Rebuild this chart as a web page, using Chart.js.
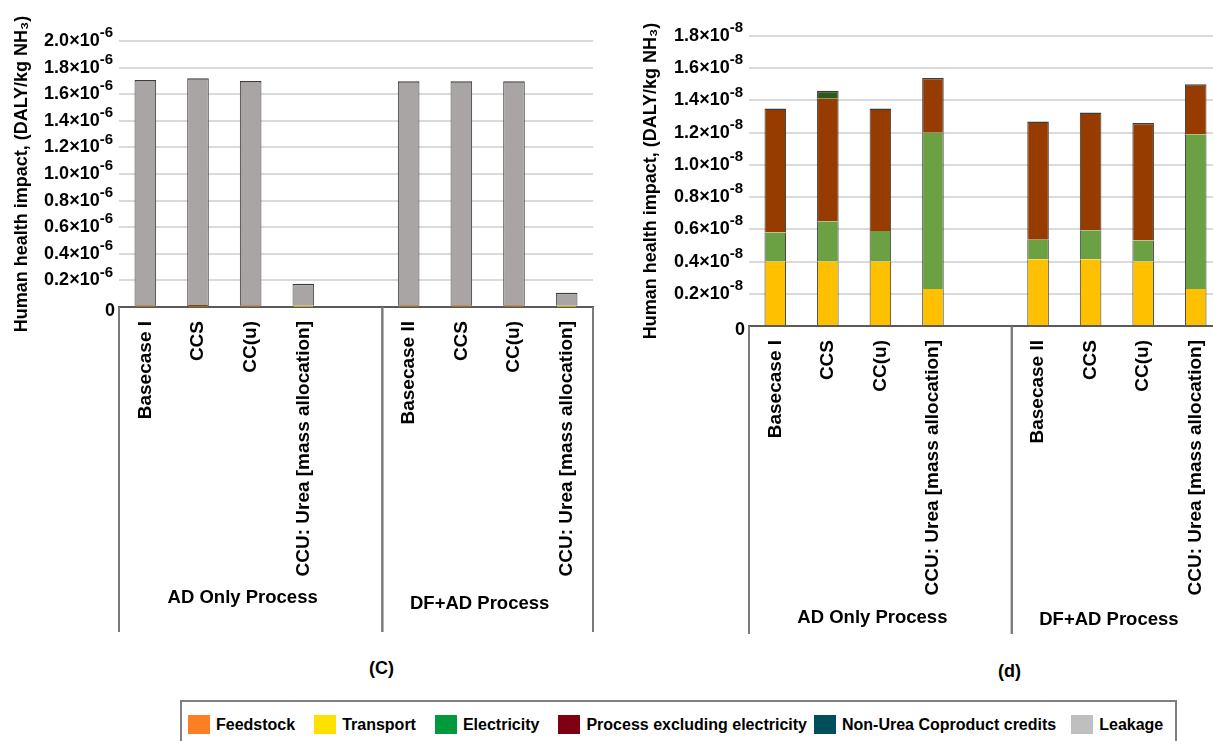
<!DOCTYPE html>
<html>
<head>
<meta charset="utf-8">
<script src="https://cdn.jsdelivr.net/npm/chart.js@4"></script>
<style>
  body { margin: 0; width: 1213px; height: 741px; overflow: hidden; background: #fff; position: relative;
         font-family: "Liberation Sans", Arial, sans-serif; color: #000; }
  .panel { position: absolute; top: 0; }
  .tag { position: absolute; font-weight: bold; font-size: 18px; }
  #legend { position: absolute; left: 180px; top: 700px; width: 997px; height: 60px;
            border: 2px solid #7f7f7f; box-sizing: border-box; display: flex; align-items: flex-start;
            padding: 13px 0 0 6px; font-weight: bold; font-size: 16px; white-space: nowrap; }
  #legend .item { display: flex; align-items: center; flex-shrink: 0; height: 19px; }
  #legend .sw { width: 22px; height: 19px; margin-right: 6px; flex-shrink: 0; }
</style>
</head>
<body>
<canvas id="impactC" class="panel" style="left:0" width="600" height="640"></canvas>
<canvas id="impactD" class="panel" style="left:600px" width="640" height="650"></canvas>
<div class="tag" style="left:369px; top:658px;">(C)</div>
<div class="tag" style="left:998px; top:661px;">(d)</div>
<div id="legend"></div>

<script>
// --- categories (empty slot separates the two process groups) ---
const scenarios = ['Basecase I', 'CCS', 'CC(u)', 'CCU: Urea [mass allocation]', '',
                   'Basecase II', 'CCS', 'CC(u)', 'CCU: Urea [mass allocation]'];
const groups = [
  { label: 'AD Only Process', from: 0, to: 4 },
  { label: 'DF+AD Process', from: 5, to: 8 }
];

const seriesNames = ['Feedstock', 'Transport', 'Electricity', 'Process excluding electricity',
                     'Non-Urea Coproduct credits', 'Leakage'];

// --- panel (C), values in 10^-6 DALY/kg NH3 ---
const cFeedstock   = [0, 0, 0, 0, null, 0, 0, 0, 0];
const cTransport   = [0.0040, 0.0040, 0.0040, 0.0023, null, 0.0042, 0.0042, 0.0040, 0.0023];
const cElectricity = [0.0018, 0.0025, 0.0019, 0.0097, null, 0.0012, 0.0018, 0.0013, 0.0096];
const cProcess     = [0.0077, 0.0076, 0.0076, 0.0034, null, 0.0074, 0.0073, 0.0073, 0.0031];
const cNonUrea     = [0, 0.0005, 0, 0, null, 0, 0, 0, 0];
const cLeakage     = [1.693, 1.706, 1.686, 0.160, null, 1.684, 1.684, 1.684, 0.093];
const cTicks = { max: 2.0, step: 0.2, exp: '-6' };

// --- panel (d), values in 10^-8 DALY/kg NH3 ---
const dFeedstock   = [0, 0, 0, 0, null, 0, 0, 0, 0];
const dTransport   = [0.40, 0.40, 0.40, 0.23, null, 0.415, 0.415, 0.40, 0.23];
const dElectricity = [0.18, 0.25, 0.19, 0.97, null, 0.12, 0.18, 0.13, 0.96];
const dProcess     = [0.77, 0.76, 0.76, 0.34, null, 0.735, 0.73, 0.73, 0.31];
const dNonUrea     = [0, 0.05, 0, 0, null, 0, 0, 0, 0];
const dLeakage     = [0, 0, 0, 0, null, 0, 0, 0, 0];
const dTicks = { max: 1.8, step: 0.2, exp: '-8' };

// bar fills and legend swatches
const barColors    = ['#f47b20', '#ffc000', '#6ba143', '#973c00', '#2f5a1f', '#aaa5a5'];
const legendColors = ['#fd7f23', '#ffe100', '#009a3c', '#7f0010', '#004d5c', '#bfbfbf'];
const legendGaps   = [19, 19, 19, 7, 15, 0];

const FONT = '"Liberation Sans", Arial, sans-serif';
Chart.defaults.font.family = FONT;
Chart.defaults.color = '#000';

// outline only on the outside of each stacked column
function outline(ctx) {
  const ds = ctx.chart.data.datasets;
  let top = true;
  for (let k = ctx.datasetIndex + 1; k < ds.length; k++) {
    if (ds[k].data[ctx.dataIndex]) top = false;
  }
  return { left: 1, right: 1, top: top ? 1.5 : 0, bottom: 0 };
}

// y tick labels written as n.n×10^e with a raised exponent
const sciTicks = {
  id: 'sciTicks',
  afterDraw(chart, args, opts) {
    const { ctx, chartArea } = chart;
    const y = chart.scales.y;
    const x = chartArea.left - 6;
    ctx.save();
    ctx.fillStyle = '#000';
    ctx.textAlign = 'right';
    ctx.textBaseline = 'middle';
    y.ticks.forEach(t => {
      const py = y.getPixelForValue(t.value);
      if (t.value === 0) {
        ctx.font = 'bold 18px ' + FONT;
        ctx.fillText('0', x + 2, py + 4);
        return;
      }
      ctx.font = 'bold 15px ' + FONT;
      ctx.fillText(opts.exp, x, py - 8);
      const w = ctx.measureText(opts.exp).width;
      ctx.font = 'bold 18px ' + FONT;
      ctx.fillText(t.value.toFixed(1) + '×10', x - w, py);
    });
    ctx.restore();
  }
};

// group separators below the axis and the process names
const groupAxis = {
  id: 'groupAxis',
  afterDraw(chart, args, opts) {
    const { ctx, chartArea } = chart;
    const x = chart.scales.x;
    const half = (chartArea.right - chartArea.left) / chart.data.labels.length / 2;
    ctx.save();
    ctx.strokeStyle = '#7a7a7a';
    ctx.lineWidth = 2;
    ctx.fillStyle = '#000';
    ctx.font = 'bold 18.5px ' + FONT;
    ctx.textAlign = 'center';
    ctx.textBaseline = 'middle';
    opts.groups.forEach((g, i) => {
      const x0 = x.getPixelForValue(g.from) - half;
      const x1 = x.getPixelForValue(g.to) + half;
      [x0, x1].forEach(px => {
        ctx.beginPath();
        ctx.moveTo(px, chartArea.bottom);
        ctx.lineTo(px, opts.lineBottom);
        ctx.stroke();
      });
      ctx.fillText(g.label, (x0 + x1) / 2 - 8, opts.labelY[i]);
    });
    ctx.restore();
  }
};

function makeDatasets(rows) {
  return rows.map((data, i) => ({
    label: seriesNames[i],
    data,
    backgroundColor: barColors[i],
    borderColor: '#3c3c3c',
    borderWidth: outline,
    borderSkipped: false,
    barPercentage: 0.41,
    categoryPercentage: 1
  }));
}

function makeChart(id, rows, ticks, layout) {
  return new Chart(document.getElementById(id), {
    type: 'bar',
    data: { labels: scenarios, datasets: makeDatasets(rows) },
    options: {
      responsive: false,
      animation: false,
      devicePixelRatio: 1,
      layout: { padding: layout.padding },
      plugins: {
        legend: { display: false },
        tooltip: { enabled: false },
        sciTicks: { exp: ticks.exp },
        groupAxis: { groups, lineBottom: layout.lineBottom, labelY: layout.labelY }
      },
      scales: {
        x: {
          stacked: true,
          grid: { display: false },
          border: { display: true, color: '#5a5a5a', width: 2 },
          ticks: { autoSkip: false, minRotation: 90, maxRotation: 90, padding: 6,
                   font: { size: 19, weight: 'bold' }, color: '#000' },
          afterFit(scale) { scale.height = layout.xHeight; }
        },
        y: {
          stacked: true,
          min: 0,
          max: ticks.max,
          ticks: { stepSize: ticks.step, display: false },
          grid: { color: '#dadada', lineWidth: 2, drawTicks: false },
          border: { display: false },
          title: { display: true, text: 'Human health impact, (DALY/kg NH₃)',
                   font: { size: 18, weight: 'bold' }, color: '#000', padding: { top: 11, bottom: 0 } },
          afterFit(scale) { scale.width = layout.yWidth; }
        }
      }
    },
    plugins: [sciTicks, groupAxis]
  });
}

makeChart('impactC',
  [cFeedstock, cTransport, cElectricity, cProcess, cNonUrea, cLeakage], cTicks,
  { padding: { top: 41, right: 7, left: 0, bottom: 0 }, xHeight: 333, yWidth: 119,
    lineBottom: 632, labelY: [598, 604] });

makeChart('impactD',
  [dFeedstock, dTransport, dElectricity, dProcess, dNonUrea, dLeakage], dTicks,
  { padding: { top: 36, right: 18, left: 29, bottom: 0 }, xHeight: 324, yWidth: 120,
    lineBottom: 634, labelY: [618, 620] });

// shared legend
const legend = document.getElementById('legend');
seriesNames.forEach((name, i) => {
  const item = document.createElement('div');
  item.className = 'item';
  item.style.marginRight = legendGaps[i] + 'px';
  const sw = document.createElement('span');
  sw.className = 'sw';
  sw.style.background = legendColors[i];
  const txt = document.createElement('span');
  txt.textContent = name;
  item.appendChild(sw);
  item.appendChild(txt);
  legend.appendChild(item);
});
</script>
</body>
</html>
